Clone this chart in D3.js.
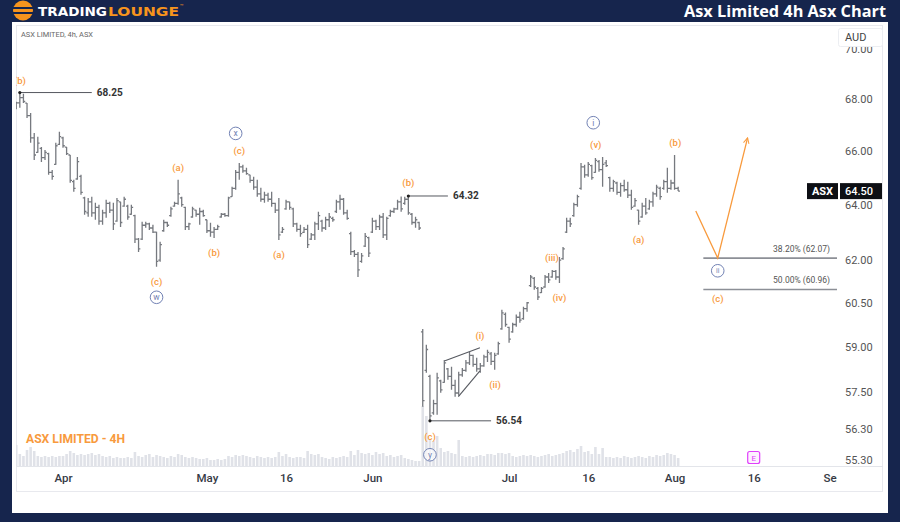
<!DOCTYPE html>
<html><head><meta charset="utf-8">
<script src="https://cdn.jsdelivr.net/npm/d3@7"></script>
<style>body{margin:0;background:#16254d;} svg{display:block}</style>
</head><body><svg id="c" width="900" height="522"></svg>
<script>
// ---------- DATA ----------
const opens = [
67.65,67.85,68.05,67.84,67.35,66.50,65.95,66.10,65.75,65.90,
65.20,65.50,66.25,66.50,66.15,65.85,64.85,64.95,65.05,64.25,
63.70,64.10,63.70,63.90,63.40,63.70,64.05,63.80,63.40,64.10,
63.95,63.95,63.65,63.60,62.75,62.75,63.25,63.30,63.15,63.00,
62.00,63.05,63.35,63.60,63.95,64.05,64.25,63.90,63.20,63.55,
63.80,63.65,63.75,63.45,63.05,63.00,63.10,63.55,63.65,63.60,
64.30,64.60,65.20,65.40,65.25,65.10,64.90,64.65,64.40,64.20,
64.35,64.20,64.05,63.80,63.00,63.85,64.10,63.85,63.30,63.10,
62.99,63.10,62.75,62.90,63.30,63.40,63.15,63.45,63.50,63.75,
64.10,64.20,63.70,62.95,62.30,62.20,61.95,62.50,62.80,63.00,
63.40,63.20,63.55,62.90,63.60,63.75,63.85,64.10,64.05,64.20,
63.65,63.35,63.35,59.50,58.20,58.00,56.80,57.10,57.85,57.80,
58.25,58.00,57.70,57.45,58.05,58.20,58.45,58.70,58.40,58.25,
58.35,58.65,58.75,58.50,58.75,59.60,60.10,59.65,59.50,59.75,
60.00,59.95,60.30,61.10,61.35,61.00,60.85,61.05,61.40,61.40,
61.60,61.40,62.05,63.00,63.40,63.60,64.00,64.60,65.40,65.10,
65.45,65.20,65.60,65.30,65.55,65.00,64.60,64.80,64.45,64.70,
64.55,64.35,63.95,63.80,63.55,63.95,63.85,64.10,64.40,64.60,
64.60,64.85,64.60,64.80,64.60];
const highs = [
67.89,68.25,68.20,67.84,67.45,66.69,66.54,66.15,66.04,65.93,
65.29,66.31,66.73,66.54,66.15,65.85,64.92,65.77,65.11,64.29,
64.25,64.29,64.07,64.00,63.81,64.18,64.11,64.07,64.25,64.11,
64.29,64.00,64.00,63.63,62.79,63.38,63.38,63.34,63.27,63.01,
62.65,63.45,63.38,63.92,64.11,64.92,64.29,63.92,63.34,63.92,
63.81,63.89,63.81,63.45,63.34,63.19,63.27,63.70,63.70,64.29,
64.66,65.29,65.55,65.48,65.37,65.11,65.03,64.92,64.62,64.48,
64.44,64.48,64.07,64.25,63.19,64.18,64.11,63.89,63.34,63.27,
63.19,63.27,62.97,63.38,63.74,63.45,63.56,63.70,63.56,64.18,
64.37,64.25,63.81,63.01,62.36,62.29,62.25,62.97,62.83,63.52,
63.45,63.63,63.70,63.56,63.81,63.89,64.18,64.30,64.29,64.32,
63.70,63.56,63.38,59.60,59.06,58.05,57.23,58.12,57.89,58.55,
58.28,58.32,57.89,58.15,58.28,58.55,58.82,58.72,58.62,58.45,
58.72,58.89,58.82,58.79,59.16,60.26,60.16,59.67,59.81,60.09,
60.19,60.36,60.53,61.47,61.40,61.05,61.05,61.47,61.54,61.65,
61.65,62.11,62.47,63.52,63.52,64.07,64.37,65.55,65.48,65.59,
65.48,65.74,65.66,65.77,65.66,65.03,64.92,64.85,64.81,64.92,
64.85,64.55,64.25,63.81,64.07,64.25,64.18,64.48,64.74,64.66,
64.92,65.37,64.92,65.85,64.66];
const lows = [
67.60,67.66,67.84,67.26,66.31,65.66,65.93,65.59,65.66,65.11,
64.92,65.48,66.23,66.12,65.85,64.81,64.48,64.92,64.37,63.63,
63.56,63.56,63.45,63.27,63.27,63.52,63.70,63.08,63.38,63.19,
63.92,63.45,63.63,62.61,62.29,62.72,63.16,63.08,62.97,61.76,
61.94,63.01,63.19,63.56,63.92,64.00,63.92,63.08,63.08,63.52,
63.56,63.27,63.56,62.97,62.83,62.79,63.08,63.52,63.56,63.56,
64.29,64.55,64.92,65.18,65.11,64.81,64.55,64.29,64.11,64.07,
64.11,63.92,63.70,62.72,62.97,63.81,63.81,63.19,63.01,62.83,
62.97,62.43,62.72,62.72,63.08,63.01,63.08,63.19,63.38,63.70,
63.81,63.63,63.45,62.18,62.11,61.40,61.90,62.47,62.11,62.97,
63.08,63.08,62.79,62.72,63.56,63.70,63.81,63.74,64.00,63.63,
63.27,63.16,63.08,57.00,58.12,56.54,56.74,56.74,57.46,57.79,
57.89,57.56,57.33,57.36,57.99,58.15,58.38,58.32,58.15,58.12,
58.32,58.48,58.38,58.22,58.72,59.57,59.67,59.13,59.47,59.67,
59.81,59.91,60.19,61.05,60.95,60.60,60.84,61.02,61.19,61.37,
61.30,61.19,62.01,62.97,63.19,63.56,63.92,64.55,65.00,65.03,
64.92,65.18,65.22,64.66,65.40,64.48,64.48,64.37,64.29,64.48,
64.25,63.81,63.92,63.27,63.52,63.63,63.81,63.92,64.29,64.18,
64.55,64.44,64.55,64.55,64.50];
const closes = [
67.85,68.05,67.90,67.35,66.50,65.85,66.30,65.75,65.95,65.20,
65.05,66.20,66.55,66.20,65.90,64.90,64.60,65.60,64.45,63.75,
64.10,63.70,63.90,63.40,63.70,64.05,63.80,63.30,64.15,63.35,
64.20,63.55,63.90,62.75,62.40,63.25,63.30,63.15,63.00,61.95,
62.55,63.35,63.25,63.85,64.05,64.40,64.00,63.20,63.30,63.85,
63.65,63.75,63.60,63.05,63.00,63.10,63.20,63.65,63.60,64.25,
64.60,65.20,65.40,65.25,65.15,64.90,64.65,64.40,64.20,64.35,
64.20,64.05,63.80,62.90,63.10,64.10,63.90,63.30,63.10,62.95,
63.10,62.55,62.90,63.30,63.60,63.15,63.45,63.55,63.45,64.10,
64.20,63.70,63.50,62.30,62.20,61.65,62.15,62.85,62.25,63.40,
63.20,63.55,62.90,63.50,63.75,63.85,64.10,63.85,64.20,63.70,
63.35,63.45,63.15,57.20,58.90,56.70,57.10,57.95,57.55,58.45,
58.00,57.70,57.45,58.05,58.20,58.45,58.70,58.40,58.25,58.35,
58.65,58.80,58.50,58.70,59.10,60.15,59.75,59.25,59.75,60.00,
59.90,60.30,60.50,61.40,61.05,60.70,61.00,61.40,61.30,61.60,
61.40,62.00,62.40,63.40,63.30,64.00,64.30,65.40,65.10,65.50,
65.00,65.65,65.30,65.50,65.45,64.60,64.85,64.45,64.70,64.55,
64.35,63.90,64.15,63.40,63.95,63.70,64.10,64.40,64.65,64.30,
64.85,64.60,64.80,64.60,64.50];
// volume in thousands of shares
const volumes = [
525,300,250,400,475,375,250,225,250,225,
250,225,250,250,300,375,325,275,300,275,
300,325,275,300,250,225,250,200,225,200,
200,225,200,350,250,225,275,300,225,275,
250,225,200,250,225,300,275,225,200,225,
200,175,175,200,150,150,175,150,175,250,
225,275,250,275,250,225,200,250,225,200,
225,200,225,350,250,300,225,200,225,225,
200,375,300,275,300,225,200,175,225,200,
225,250,225,375,275,400,325,300,325,275,
350,300,325,250,275,225,250,275,200,175,
150,125,125,1500,1250,675,625,750,450,350,
375,325,300,650,250,225,250,225,250,275,
250,300,300,275,325,325,300,325,250,225,
250,275,250,275,250,225,250,275,300,250,
275,300,325,375,400,350,425,500,350,375,
300,475,300,450,225,225,200,225,200,250,
225,200,225,250,225,200,250,225,275,250,
275,325,300,275,200];

// time axis: bar index of each labelled date
const timeTickIdx    = [13, 53, 75, 99, 137, 159, 183, 205, 227];
const timeTickLabels = ["Apr","May","16","Jun","Jul","16","Aug","16","Sep"];
const priceTicks = [70, 68, 66, 64, 62, 60.5, 59, 57.5, 56.3, 55.3];
const lastPrice = 64.50;

// horizontal price levels
const levelPrices = [68.25, 64.32, 56.54];
const levelStart  = [1, 109, 115];
const levelEnd    = [21, 120, 132];

// fibonacci levels
const fibPrices = [62.07, 60.96];
const fibLabels = ["38.20% (62.07)", "50.00% (60.96)"];
const fibStart = 191;

// wave labels (bar index, price)
const waveText  = ["(b)","(a)","(c)","(b)","(c)","(a)","(b)","(i)","(ii)","(iii)","(iv)","(c)","(v)","(a)","(b)","(c)"];
const waveIdx   = [1, 45, 39, 55, 62, 73, 109, 128.9, 133.1, 148.9, 151, 115, 161.1, 173, 183.2, 195];
const wavePrice = [68.72, 65.37, 61.23, 62.28, 66.0, 62.18, 64.83, 59.37, 57.72, 62.09, 60.66, 56.04, 66.25, 62.72, 66.31, 60.64];
const circText  = ["w","x","y","i","ii"];
const circIdx   = [39, 61, 115, 160.4, 195];
const circPrice = [60.69, 66.67, 55.45, 67.08, 61.62];

// diagonal wedge in wave (i)
const wedgeIdx   = [[119.2, 128.9], [122.9, 128.9]];
const wedgePrice = [[58.52, 58.96], [57.33, 58.18]];

// projected path
const projIdx   = [188.9, 195, 203.3];
const projPrice = [63.77, 62.07, 66.5];

// ---------- DRAW ----------
const FONT = "Roboto, 'Noto Sans', Arial, sans-serif";
const ORANGE = "#f89a3d";
const CIRC = "#7282b4";
const svg = d3.select("#c");
const defs = svg.append("defs");

const x = d3.scaleLinear().domain([13, 205]).range([63, 753.7]);
const y = d3.scaleLog().domain([55.3, 70]).range([459.5, 48.4]);
const yv = d3.scaleLinear().domain([0, 1500]).range([466, 406]);

svg.append("rect").attr("width", 900).attr("height", 522).attr("fill", "#16254d");
svg.append("rect").attr("x", 12).attr("y", 22).attr("width", 876).attr("height", 491).attr("fill", "#ffffff");
svg.append("rect").attr("x", 16.5).attr("y", 25.5).attr("width", 866).attr("height", 466)
  .attr("fill", "none").attr("stroke", "#e8e9ee");
svg.append("line").attr("x1", 16).attr("x2", 883).attr("y1", 466.5).attr("y2", 466.5).attr("stroke", "#e3e5ea");

// header
svg.append("circle").attr("cx", 23).attr("cy", 10.5).attr("r", 10).attr("fill", "#f7941d");
svg.append("rect").attr("x", 12).attr("y", 7).attr("width", 22).attr("height", 2).attr("fill", "#16254d");
svg.append("rect").attr("x", 12).attr("y", 12).attr("width", 22).attr("height", 2).attr("fill", "#16254d");
svg.append("text").attr("x", 38).attr("y", 15.5).text("TRADING")
  .attr("font-family", "'DejaVu Sans', sans-serif").attr("font-weight", "bold").attr("font-size", 13)
  .attr("fill", "#ffffff").attr("textLength", 69).attr("lengthAdjust", "spacingAndGlyphs");
svg.append("text").attr("x", 108).attr("y", 15.5).text("LOUNGE")
  .attr("font-family", "'DejaVu Sans', sans-serif").attr("font-weight", "bold").attr("font-size", 13)
  .attr("fill", "#f7941d").attr("textLength", 71).attr("lengthAdjust", "spacingAndGlyphs");
svg.append("text").attr("x", 180).attr("y", 8).text("™").attr("font-size", 6).attr("fill", "#f7941d")
  .attr("font-family", FONT);
svg.append("text").attr("x", 886).attr("y", 16.5).attr("text-anchor", "end").text("Asx Limited 4h Asx Chart")
  .attr("font-family", "'Open Sans', sans-serif").attr("font-weight", "bold").attr("font-size", 16.5)
  .attr("fill", "#ffffff").attr("textLength", 202).attr("lengthAdjust", "spacingAndGlyphs");

svg.append("text").attr("x", 21).attr("y", 36.5).text("ASX LIMITED, 4h, ASX")
  .attr("font-family", FONT).attr("font-size", 7).attr("fill", "#666")
  .attr("textLength", 72).attr("lengthAdjust", "spacingAndGlyphs");

// plot clip
defs.append("clipPath").attr("id", "plot").append("rect")
  .attr("x", 16).attr("y", 26).attr("width", 821).attr("height", 440);
const g = svg.append("g").attr("clip-path", "url(#plot)");

const bars = d3.range(highs.length).map(i => ({i, o: opens[i], h: highs[i], l: lows[i], c: closes[i], v: volumes[i]}));

// volume
g.append("g").selectAll("rect").data(bars).join("rect")
  .attr("x", d => x(d.i) - 1.3).attr("width", 2.6)
  .attr("y", d => yv(d.v)).attr("height", d => yv(0) - yv(d.v))
  .attr("fill", "#e0e2e8");

// OHLC bars
g.append("path")
  .attr("d", bars.map(d => {
    const X = x(d.i);
    return `M${X},${y(d.h)}V${y(d.l)}M${X - 1.8},${y(d.o)}H${X}M${X},${y(d.c)}H${X + 1.8}`;
  }).join(""))
  .attr("stroke", "#76797f").attr("stroke-width", 1.3).attr("fill", "none");

// wedge
wedgeIdx.forEach((ix, k) => {
  g.append("line").attr("x1", x(ix[0])).attr("x2", x(ix[1]))
    .attr("y1", y(wedgePrice[k][0])).attr("y2", y(wedgePrice[k][1]))
    .attr("stroke", "#55585f").attr("stroke-width", 1.1);
});

// levels
levelPrices.forEach((p, k) => {
  const yy = y(p);
  g.append("line").attr("x1", x(levelStart[k])).attr("x2", x(levelEnd[k])).attr("y1", yy).attr("y2", yy)
    .attr("stroke", "#55585f").attr("stroke-width", 1);
  g.append("circle").attr("cx", x(levelStart[k])).attr("cy", yy).attr("r", 1.6).attr("fill", "#222");
  g.append("text").attr("x", x(levelEnd[k]) + 5).attr("y", yy).attr("dy", "0.35em").text(p.toFixed(2))
    .attr("font-family", FONT).attr("font-weight", "bold").attr("font-size", 10).attr("fill", "#333");
});

// fib levels
fibPrices.forEach((p, k) => {
  const yy = y(p);
  g.append("line").attr("x1", x(fibStart)).attr("x2", 837).attr("y1", yy).attr("y2", yy)
    .attr("stroke", "#8c8f96").attr("stroke-width", 1.6);
  g.append("text").attr("x", 830).attr("y", yy - 9.5).attr("dy", "0.35em").attr("text-anchor", "end")
    .text(fibLabels[k]).attr("font-family", FONT).attr("font-size", 8.5).attr("fill", "#555");
});

// projection
defs.append("marker").attr("id", "arr").attr("viewBox", "0 0 10 10").attr("refX", 9).attr("refY", 5)
  .attr("markerWidth", 7).attr("markerHeight", 7).attr("orient", "auto").attr("markerUnits", "userSpaceOnUse")
  .append("path").attr("d", "M1,1L9,5L1,9").attr("fill", "none").attr("stroke", ORANGE).attr("stroke-width", 1.4);
g.append("path")
  .attr("d", d3.line().x((d, k) => x(projIdx[k])).y((d, k) => y(projPrice[k]))(projIdx))
  .attr("fill", "none").attr("stroke", ORANGE).attr("stroke-width", 1.3).attr("marker-end", "url(#arr)");

// wave labels
waveText.forEach((t, k) => {
  g.append("text").attr("x", x(waveIdx[k])).attr("y", y(wavePrice[k])).attr("dy", "0.35em")
    .attr("text-anchor", "middle").text(t)
    .attr("font-family", FONT).attr("font-weight", 500).attr("font-size", 9.5).attr("fill", ORANGE);
});
circText.forEach((t, k) => {
  const cx = x(circIdx[k]), cy = y(circPrice[k]);
  g.append("circle").attr("cx", cx).attr("cy", cy).attr("r", 6.3).attr("fill", "#fff")
    .attr("fill-opacity", 0.6).attr("stroke", CIRC).attr("stroke-width", 1);
  g.append("text").attr("x", cx).attr("y", cy).attr("dy", "0.33em").attr("text-anchor", "middle").text(t)
    .attr("font-family", FONT).attr("font-size", t.length > 1 ? 7 : 8.5).attr("fill", CIRC);
});

// chart title in orange
g.append("text").attr("x", 26).attr("y", 443).text("ASX LIMITED - 4H")
  .attr("font-family", FONT).attr("font-weight", "bold").attr("font-size", 12).attr("fill", ORANGE)
  .attr("textLength", 99).attr("lengthAdjust", "spacingAndGlyphs");

// earnings marker
const ex = x(205);
svg.append("rect").attr("x", ex - 6).attr("y", 451.5).attr("width", 12).attr("height", 12).attr("rx", 2)
  .attr("fill", "#fdf2ff").attr("stroke", "#e040fb").attr("stroke-width", 1.2);
svg.append("text").attr("x", ex).attr("y", 457.8).attr("dy", "0.35em").attr("text-anchor", "middle").text("E")
  .attr("font-family", FONT).attr("font-size", 8).attr("fill", "#e040fb");

// time axis
defs.append("clipPath").attr("id", "xclip").append("rect").attr("x", 16).attr("y", 467).attr("width", 821).attr("height", 24);
const gxo = svg.append("g").attr("clip-path", "url(#xclip)");
const gx = gxo.append("g").attr("transform", "translate(0,477.5)")
  .call(d3.axisBottom(x).tickValues(timeTickIdx).tickFormat((d, i) => timeTickLabels[i]).tickSize(0).tickPadding(0));
gx.select(".domain").remove();
gx.selectAll("text").attr("y", 0).attr("dy", "0.35em")
  .attr("font-family", FONT).attr("font-size", 11.5).attr("font-weight", 500).attr("fill", "#363a45");

// price axis
const gy = svg.append("g").attr("transform", "translate(845,0)")
  .call(d3.axisRight(y).tickValues(priceTicks).tickFormat(d3.format(".2f")).tickSize(0).tickPadding(0));
gy.select(".domain").remove();
gy.selectAll("text").attr("x", 0).attr("dy", "0.35em")
  .attr("font-family", FONT).attr("font-size", 11).attr("fill", "#555");

// AUD box (partly covers the top tick label, as in the reference)
svg.append("rect").attr("x", 838.5).attr("y", 28.5).attr("width", 44).attr("height", 18).attr("rx", 2)
  .attr("fill", "#fff").attr("stroke", "#eceef2");
svg.append("text").attr("x", 845).attr("y", 37).attr("dy", "0.35em").text("AUD")
  .attr("font-family", FONT).attr("font-size", 11).attr("fill", "#444");

// last price label
const ly = y(lastPrice);
svg.append("rect").attr("x", 807).attr("y", ly - 8).attr("width", 31).attr("height", 16).attr("fill", "#0d0f14");
svg.append("rect").attr("x", 840).attr("y", ly - 8).attr("width", 42).attr("height", 16).attr("fill", "#0d0f14");
svg.append("text").attr("x", 822.5).attr("y", ly).attr("dy", "0.35em").attr("text-anchor", "middle").text("ASX")
  .attr("font-family", FONT).attr("font-weight", "bold").attr("font-size", 11).attr("fill", "#fff");
svg.append("text").attr("x", 845).attr("y", ly).attr("dy", "0.35em").text(lastPrice.toFixed(2))
  .attr("font-family", FONT).attr("font-weight", 500).attr("font-size", 11).attr("fill", "#fff");
</script>
</body></html>
